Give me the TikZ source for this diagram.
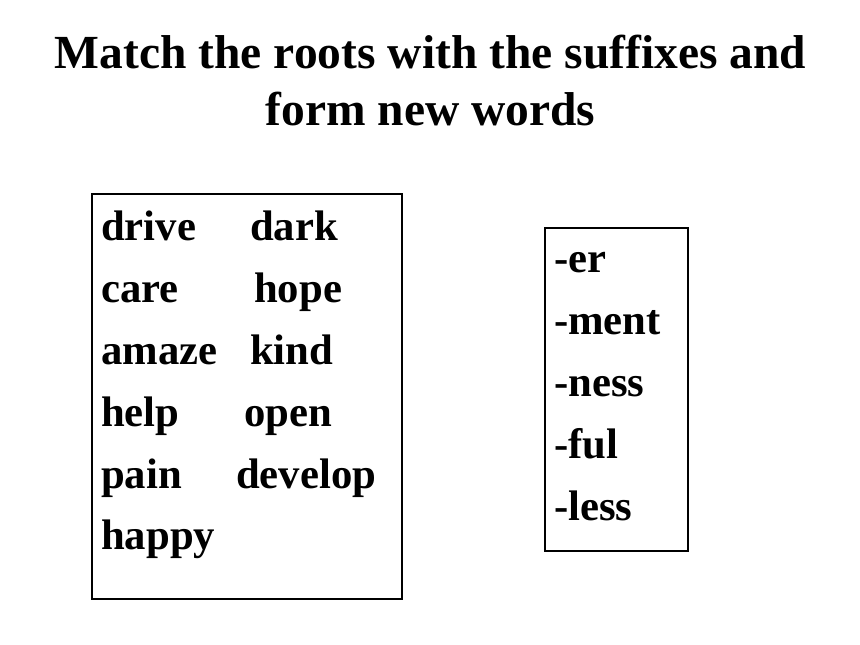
\documentclass[tikz,border=0pt]{standalone}
\usepackage{fontspec}
\setmainfont{Liberation Serif}
\begin{document}
\begin{tikzpicture}[x=1pt,y=-1pt,
  titletext/.style={anchor=base,inner sep=0pt,font=\fontsize{47.5}{57}\selectfont\bfseries},
  word/.style={anchor=base west,inner sep=0pt,font=\fontsize{42.7}{50}\selectfont\bfseries},
  wordbox/.style={draw=black,line width=1.8pt}]
\useasboundingbox[fill=white] (0,0) rectangle (860,645);
% title
\node[titletext] (t1) at (430.5,68) {Match the roots with the suffixes and};
\node[titletext] (t2) at (430.5,125) {form new words};
% left box
\draw[wordbox] (92,194) rectangle (402,599);
\node[word] (w1) at (101,240) {drive};
\node[word] (w2) at (250,240) {dark};
\node[word] (w3) at (101,302) {care};
\node[word] (w4) at (254,302) {hope};
\node[word] (w5) at (101,364) {amaze};
\node[word] (w6) at (250,364) {kind};
\node[word] (w7) at (101,426) {help};
\node[word] (w8) at (244,426) {open};
\node[word] (w9) at (101,488) {pain};
\node[word] (w10) at (236,488) {develop};
\node[word] (w11) at (101,549) {happy};
% right box
\draw[wordbox] (545,228) rectangle (688,551);
\node[word] (s1) at (554,272) {-er};
\node[word] (s2) at (554,334) {-ment};
\node[word] (s3) at (554,396) {-ness};
\node[word] (s4) at (554,458) {-ful};
\node[word] (s5) at (554,520) {-less};
\end{tikzpicture}
\end{document}
